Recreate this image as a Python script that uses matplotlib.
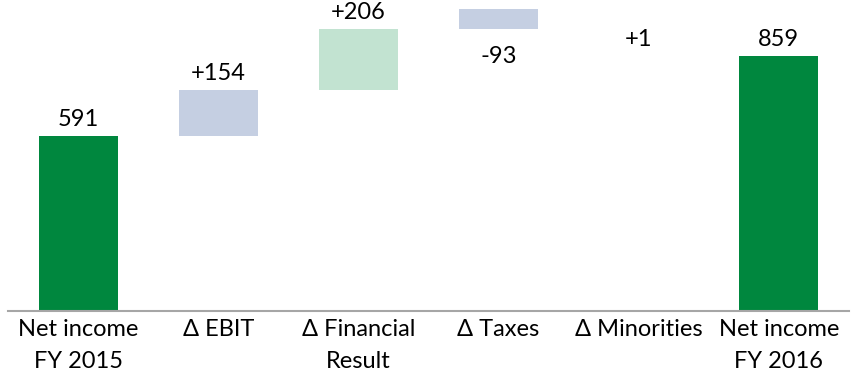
import matplotlib.pyplot as plt
import numpy as np

plt.rcParams['font.family'] = ['Lato', 'DejaVu Sans']

categories = ['Net income\nFY 2015', 'Δ EBIT', 'Δ Financial\nResult', 'Δ Taxes',
              'Δ Minorities', 'Net income\nFY 2016']
start_total = 591
deltas = [154, 206, -93, 1]
end_total = 859
labels = ['591', '+154', '+206', '-93', '+1', '859']

green = '#00873E'
delta_colors = ['#C5CFE2', '#C2E3D1', '#C5CFE2', '#C5CFE2']
fs = 17

fig = plt.figure(figsize=(8.56, 3.75), dpi=100)
ax = fig.add_axes([8 / 856, 64 / 375, 841 / 856, 302 / 375])

x = np.arange(len(categories))
w = 0.564

# totals
ax.bar(x[0], start_total, width=w, color=green)
ax.bar(x[-1], end_total, width=w, color=green)
ax.annotate(labels[0], (x[0], start_total), xytext=(0, 12), textcoords='offset points',
            ha='center', va='center', fontsize=fs)
ax.annotate(labels[-1], (x[-1], end_total), xytext=(0, 12), textcoords='offset points',
            ha='center', va='center', fontsize=fs)

# floating steps
level = start_total
for i, d in enumerate(deltas):
    xi = x[i + 1]
    if d >= 0:
        ax.bar(xi, d, bottom=level, width=w, color=delta_colors[i])
        ax.annotate(labels[i + 1], (xi, level + d), xytext=(0, 12),
                    textcoords='offset points', ha='center', va='center', fontsize=fs)
    else:
        # drawn upward from the running level, label sits at the new level
        ax.bar(xi, -d, bottom=level, width=w, color=delta_colors[i])
        ax.annotate(labels[i + 1], (xi, level + d), ha='center', va='center', fontsize=fs)
    level += d

ax.set_xlim(-0.5, 5.5)
ax.set_ylim(0, 1018)
ax.set_yticks([])
ax.set_xticks(x)
ax.set_xticklabels(categories, fontsize=fs, linespacing=1.6)
ax.tick_params(axis='x', length=0, pad=6)
for s in ['top', 'right', 'left']:
    ax.spines[s].set_visible(False)
ax.spines['bottom'].set_color('#A6A6A6')
ax.spines['bottom'].set_linewidth(1.5)

fig.savefig('out.png', dpi=100)
